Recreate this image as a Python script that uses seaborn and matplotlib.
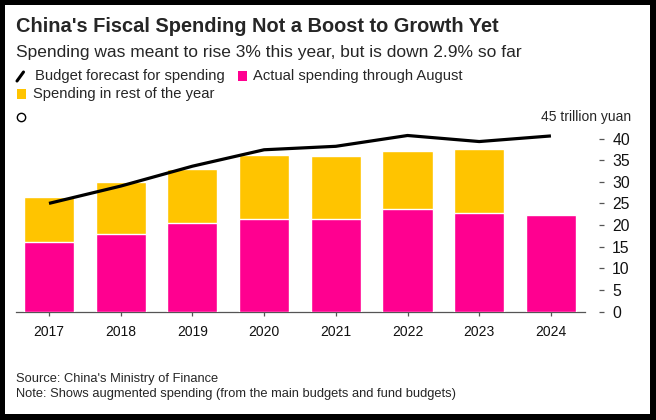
import numpy as np
import pandas as pd
import seaborn as sns
import matplotlib.pyplot as plt
from matplotlib.patches import Rectangle
from matplotlib.lines import Line2D

# 数据（万亿元）
years = ["2017", "2018", "2019", "2020", "2021", "2022", "2023", "2024"]
actual_aug = [16.1, 18.0, 20.5, 21.3, 21.4, 23.7, 22.8, 22.2]
full_year = [26.4, 30.0, 32.9, 36.3, 35.9, 37.0, 37.5, np.nan]
budget = [25.0, 29.0, 33.6, 37.4, 38.2, 40.7, 39.3, 40.6]
y_ticks = [0, 5, 10, 15, 20, 25, 30, 35, 40]

PINK = "#FF0090"
YELLOW = "#FFC400"

df = pd.DataFrame({"year": years, "actual": actual_aug, "total": full_year,
                   "budget": budget, "pos": range(len(years))})

sns.set_style("white")
plt.rcParams["font.family"] = ["Liberation Sans", "DejaVu Sans"]

W, H = 656, 420
fig = plt.figure(figsize=(W / 100, H / 100), dpi=100, facecolor="black")


def fx(x):
    return x / W


def fy(y):
    return 1 - y / H


# 白色底板 + 黑框
fig.patches.append(Rectangle((fx(5), fy(414)), fx(645), 409 / H, transform=fig.transFigure,
                             facecolor="white", edgecolor="none", zorder=-5))

ax = fig.add_axes([fx(16), fy(311.5), fx(585 - 16), (311.5 - 116.9) / H])
ax.set_facecolor("none")

sns.barplot(data=df, x="year", y="total", color=YELLOW, width=0.7, saturation=1,
            ax=ax, zorder=2)
sns.barplot(data=df, x="year", y="actual", color=PINK, width=0.7, saturation=1,
            ax=ax, zorder=3)
sns.lineplot(data=df, x="pos", y="budget", color="black", linewidth=2.3, ax=ax,
             zorder=4, solid_capstyle="butt")

ax.set_xlim(-0.46, 7.475)
ax.set_ylim(0, 45)
ax.set_xlabel("")
ax.set_ylabel("")
ax.set_xticks(range(len(years)))
ax.set_xticklabels(years)

ax.yaxis.tick_right()
ax.set_yticks(y_ticks)
ax.set_yticklabels([str(t) for t in y_ticks])
ax.spines["right"].set_position(("outward", 10))
for s in ["top", "left", "right"]:
    ax.spines[s].set_visible(False)
ax.spines["bottom"].set_color("#555555")
ax.spines["bottom"].set_linewidth(0.9)

ax.tick_params(axis="x", bottom=True, length=3, width=0.9, color="#555555",
               pad=7, labelsize=10, labelcolor="#111111")
ax.tick_params(axis="y", right=True, left=False, length=3.6, width=0.9,
               color="#555555", pad=6, labelsize=11.3, labelcolor="#111111")
ax.grid(False)

# 标题
fig.text(fx(16.5), fy(32), "China's Fiscal Spending Not a Boost to Growth Yet",
         fontsize=14.4, fontweight="bold", va="baseline", ha="left")
fig.text(fx(16.5), fy(57), "Spending was meant to rise 3% this year, but is down 2.9% so far",
         fontsize=12.55, va="baseline", ha="left")

# 图例
fig.lines.append(Line2D([fx(17), fx(23.5)], [fy(81), fy(72)], transform=fig.transFigure,
                        color="black", linewidth=2.2))
fig.text(fx(35), fy(76), "Budget forecast for spending", fontsize=10.6, va="center")
fig.patches.append(Rectangle((fx(238), fy(80.5)), fx(9), 9 / H, transform=fig.transFigure,
                             facecolor=PINK, edgecolor="none"))
fig.text(fx(253), fy(76), "Actual spending through August", fontsize=10.6, va="center")
fig.patches.append(Rectangle((fx(17), fy(98.5)), fx(9), 9 / H, transform=fig.transFigure,
                             facecolor=YELLOW, edgecolor="none"))
fig.text(fx(33), fy(94), "Spending in rest of the year", fontsize=10.6, va="center")

# 单位
ax.plot([0.0085], [45], transform=ax.get_yaxis_transform(), marker="o", markersize=6,
        markerfacecolor="white", markeredgecolor="black", markeredgewidth=1.0,
        clip_on=False)
fig.text(fx(631), fy(117), "45 trillion yuan", fontsize=10, va="center", ha="right")

# 脚注
fig.text(fx(16), fy(379), "Source: China's Ministry of Finance", fontsize=9.25, va="center")
fig.text(fx(16), fy(393.5), "Note: Shows augmented spending (from the main budgets and fund budgets)",
         fontsize=9.3, va="center")

fig.savefig("out.png", dpi=100, facecolor="black")
